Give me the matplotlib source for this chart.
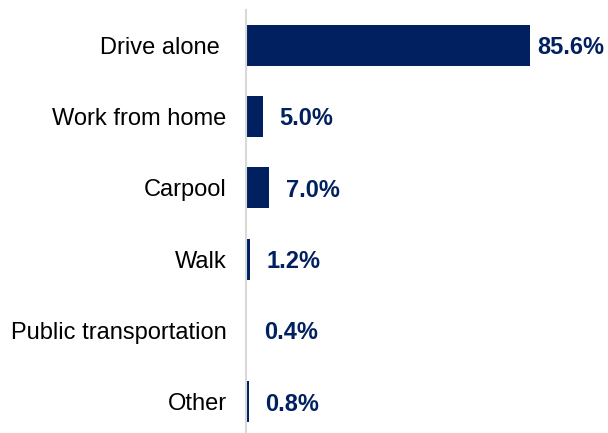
import matplotlib
matplotlib.use("Agg")
import matplotlib.pyplot as plt

modes = ["Drive alone ", "Work from home", "Carpool", "Walk",
         "Public transportation", "Other"]
shares = [85.6, 5.0, 7.0, 1.2, 0.4, 0.8]
labels = ["85.6%", "5.0%", "7.0%", "1.2%", "0.4%", "0.8%"]

navy = "#002060"

plt.rcParams["font.family"] = ["Liberation Sans", "DejaVu Sans"]

fig = plt.figure(figsize=(6.08, 4.33), dpi=100)
ax = fig.add_axes([246 / 608, -4.6 / 433, 332 / 608, 428 / 433])

y = list(range(len(modes)))
ax.barh(y, shares, height=0.575, color=navy)
ax.set_xlim(0, 100)
ax.set_ylim(len(modes) - 0.5, -0.5)

for yi, v, lab in zip(y, shares, labels):
    # the long bar sits near the edge, so its label hugs it more tightly
    off = 5 if v > 50 else 12
    ax.annotate(lab, (v, yi), xytext=(off, -1.5), textcoords="offset points",
                va="center", ha="left", fontsize=17, fontweight="bold",
                color=navy)

ax.set_yticks(y)
ax.set_yticklabels(modes, fontsize=17, color="#000000")
ax.tick_params(axis="y", length=0, pad=14)
ax.set_xticks([])
for s in ["top", "right", "bottom"]:
    ax.spines[s].set_visible(False)
ax.spines["left"].set_color("#d9d9d9")
ax.spines["left"].set_linewidth(1.5)

fig.savefig("out.png", dpi=100)
